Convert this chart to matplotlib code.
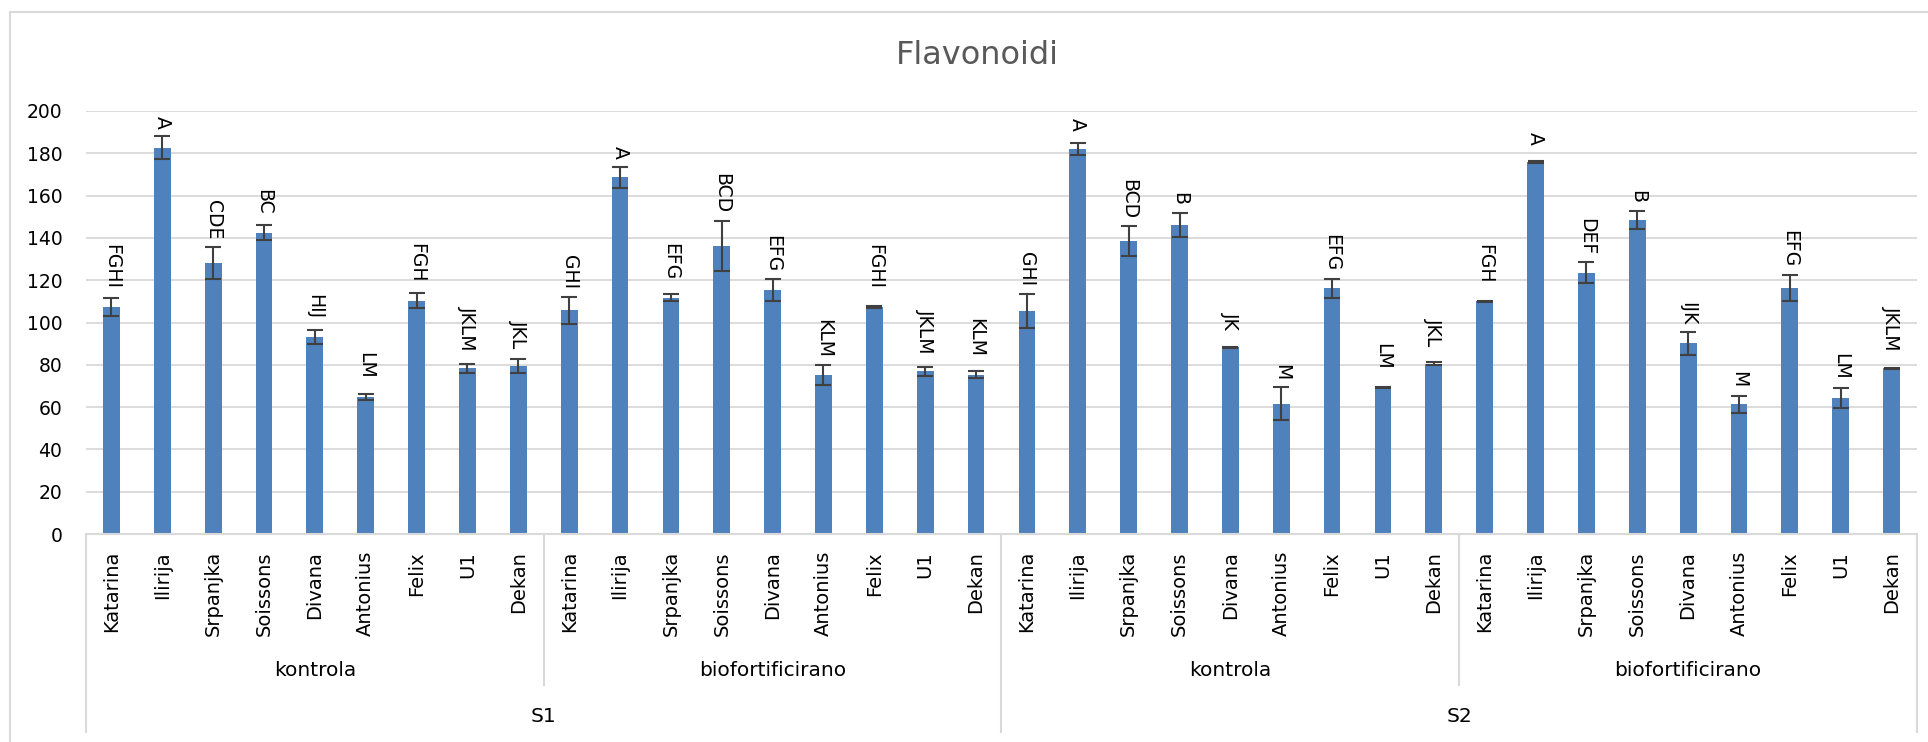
import numpy as np
import matplotlib.pyplot as plt

# ---- data ----
VARIETIES = ['Katarina', 'Ilirija', 'Srpanjka', 'Soissons', 'Divana',
             'Antonius', 'Felix', 'U1', 'Dekan']
TREATMENTS = ['kontrola', 'biofortificirano']
SEASONS = ['S1', 'S2']

s1_kontrola = [107.5, 182.7, 128.2, 142.5, 93.2, 64.9, 110.4, 78.3, 79.5]
s1_kontrola_err = [4.3, 5.3, 7.5, 3.7, 3.2, 1.4, 3.5, 2.2, 3.3]
s1_kontrola_lbl = ['FGHI', 'A', 'CDE', 'BC', 'HIJ', 'LM', 'FGH', 'JKLM', 'JKL']

s1_bio = [105.7, 168.7, 111.7, 136.2, 115.4, 75.1, 107.4, 76.9, 75.3]
s1_bio_err = [6.4, 5.0, 1.6, 12.0, 5.0, 4.8, 0.5, 2.0, 1.6]
s1_bio_lbl = ['GHI', 'A', 'EFG', 'BCD', 'EFG', 'KLM', 'FGHI', 'JKLM', 'KLM']

s2_kontrola = [105.5, 182.2, 138.6, 146.1, 88.2, 61.7, 116.1, 69.3, 80.6]
s2_kontrola_err = [8.2, 2.8, 7.0, 5.8, 0.3, 7.7, 4.4, 0.3, 0.8]
s2_kontrola_lbl = ['GHI', 'A', 'BCD', 'B', 'JK', 'M', 'EFG', 'LM', 'JKL']

s2_bio = [110.1, 175.9, 123.5, 148.3, 90.1, 61.3, 116.4, 64.4, 78.3]
s2_bio_err = [0.3, 0.3, 5.0, 4.2, 5.3, 4.0, 6.2, 4.7, 0.4]
s2_bio_lbl = ['FGH', 'A', 'DEF', 'B', 'IJK', 'M', 'EFG', 'LM', 'JKLM']

# ---- style ----
W, H = 1928, 742
BAR_COLOR = '#4F81BD'
ERR_COLOR = '#404040'
GRID_COLOR = '#D9D9D9'
TXT_COLOR = '#000000'
TITLE_COLOR = '#595959'
FONT = 'DejaVu Sans'

# plot area in pixels
AX_L, AX_R, AX_T, AX_B = 86, 1917, 111, 534


def ypx(p):
    # pixel row below the axis -> axes fraction
    return (AX_B - p) / (AX_B - AX_T)


def main():
    values = np.array(s1_kontrola + s1_bio + s2_kontrola + s2_bio)
    errs = np.array(s1_kontrola_err + s1_bio_err + s2_kontrola_err + s2_bio_err)
    letters = s1_kontrola_lbl + s1_bio_lbl + s2_kontrola_lbl + s2_bio_lbl
    names = VARIETIES * (len(SEASONS) * len(TREATMENTS))
    x = np.arange(len(values))

    fig = plt.figure(figsize=(W / 100, H / 100), dpi=100)
    ax = fig.add_axes([AX_L / W, (H - AX_B) / H, (AX_R - AX_L) / W, (AX_B - AX_T) / H])

    ax.bar(x, values, width=0.33, color=BAR_COLOR, zorder=2)
    ax.errorbar(x, values, yerr=errs, fmt='none', ecolor=ERR_COLOR,
                elinewidth=1.5, capsize=5.5, capthick=1.5, zorder=3)

    # letter labels above bars
    for xi, v, e, t in zip(x, values, errs, letters):
        y0 = max(v + 8.3, v + e + 3.5)
        ax.text(xi, y0, t, rotation=270, ha='center', va='bottom',
                fontsize=13.5, family=FONT, color=TXT_COLOR, clip_on=False, zorder=4)

    ax.set_xlim(-0.5, len(values) - 0.5)
    ax.set_ylim(0, 200)
    ax.set_yticks(np.arange(0, 201, 20))
    ax.yaxis.grid(True, color=GRID_COLOR, linewidth=1.3, zorder=0)
    ax.set_axisbelow(True)
    ax.tick_params(axis='y', length=0, pad=17, labelsize=13.5, labelcolor=TXT_COLOR)
    ax.set_xticks([])
    for s in ['top', 'right', 'left']:
        ax.spines[s].set_visible(False)
    ax.spines['bottom'].set_color(GRID_COLOR)
    ax.spines['bottom'].set_linewidth(1.5)

    tr = ax.get_xaxis_transform()

    # variety names
    for xi, n in zip(x, names):
        ax.text(xi, ypx(551), n, rotation=90, ha='center', va='top',
                fontsize=14, family=FONT, color=TXT_COLOR, transform=tr, clip_on=False)

    # treatment labels and dividers
    n_var = len(VARIETIES)
    for k in range(len(SEASONS) * len(TREATMENTS)):
        cx = k * n_var + (n_var - 1) / 2
        ax.text(cx, ypx(670), TREATMENTS[k % 2], ha='center', va='center',
                fontsize=14.5, family=FONT, color=TXT_COLOR, transform=tr, clip_on=False)
        if k % 2 == 1:
            xd = k * n_var - 0.5
            ax.plot([xd, xd], [0, ypx(685)], color=GRID_COLOR, lw=1.5,
                    transform=tr, clip_on=False)

    # season labels and dividers
    n_s = n_var * len(TREATMENTS)
    for k, s in enumerate(SEASONS):
        cx = k * n_s + (n_s - 1) / 2
        ax.text(cx, ypx(717), s, ha='center', va='center',
                fontsize=14.5, family=FONT, color=TXT_COLOR, transform=tr, clip_on=False)
    for xd in [-0.5 + k * n_s for k in range(len(SEASONS) + 1)]:
        ax.plot([xd, xd], [0, ypx(732)], color=GRID_COLOR, lw=1.5,
                transform=tr, clip_on=False)

    # title
    fig.text(977 / W, 1 - 55 / H, 'Flavonoidi', ha='center', va='center',
             fontsize=23, family=FONT, color=TITLE_COLOR)

    # chart frame (top and left edges visible)
    fig.add_artist(plt.Line2D([10 / W, 1], [1 - 12 / H, 1 - 12 / H],
                              color=GRID_COLOR, lw=1.5, transform=fig.transFigure))
    fig.add_artist(plt.Line2D([10 / W, 10 / W], [0, 1 - 12 / H],
                              color=GRID_COLOR, lw=1.5, transform=fig.transFigure))

    fig.savefig('out.png', dpi=100, facecolor='white')


if __name__ == "__main__":
    main()
